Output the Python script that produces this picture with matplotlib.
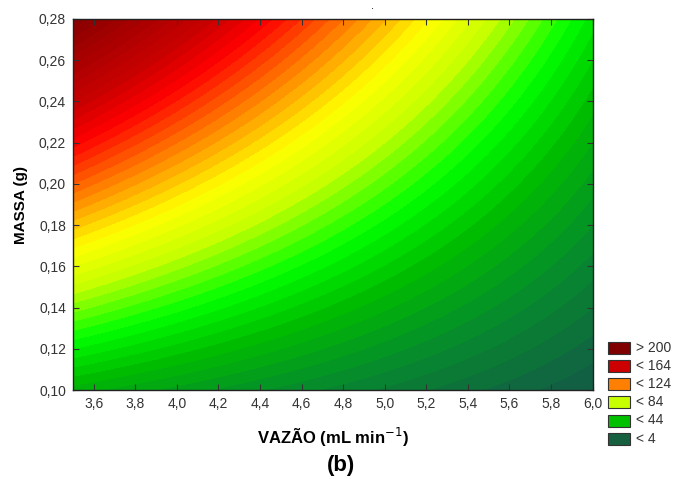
import numpy as np
import matplotlib
matplotlib.use("Agg")
import matplotlib.pyplot as plt
from matplotlib.colors import LinearSegmentedColormap, Normalize
from matplotlib.patches import Rectangle

plt.rcParams['font.family'] = ['Liberation Sans', 'DejaVu Sans']

# axis ranges / ticks
x_ticks = [3.6, 3.8, 4.0, 4.2, 4.4, 4.6, 4.8, 5.0, 5.2, 5.4, 5.6, 5.8, 6.0]
y_ticks = [0.10, 0.12, 0.14, 0.16, 0.18, 0.20, 0.22, 0.24, 0.26, 0.28]
x_range = [3.5, 6.0]
y_range = [0.10, 0.28]

# fitted response-surface coefficients (reference point x=3.5, y=0.10)
b0 = 38.0      # intercept
b_x = -15.2    # flow (VAZAO)
b_y = 900.0    # mass (MASSA)
b_xy = -240.0  # interaction

# contour levels and colour anchors
level_min, level_max, level_step = 0, 208, 4
cmap_values = [0, 20, 42, 60, 82, 100, 122, 145, 162, 205]
cmap_colors = ['#135c45', '#06882e', '#00bc00', '#00ff00', '#c8ff00', '#ffff00',
               '#ff8000', '#ff0000', '#c80000', '#800000']

# legend
legend_labels = ['> 200', '< 164', '< 124', '< 84', '< 44', '< 4']
legend_colors = ['#800000', '#cc0000', '#ff8000', '#c8ff00', '#00c000', '#17603f']

fig = plt.figure(figsize=(6.74, 4.79), dpi=100)
ax = fig.add_axes([73/674, 1-390/479, (592.5-73)/674, (390-19)/479])

xs = np.linspace(x_range[0], x_range[1], 300)
ys = np.linspace(y_range[0], y_range[1], 300)
X, Y = np.meshgrid(xs, ys)
U = X - x_range[0]
V = Y - y_range[0]
Z = b0 + b_x*U + b_y*V + b_xy*U*V

vmin, vmax = cmap_values[0], cmap_values[-1]
cmap = LinearSegmentedColormap.from_list(
    'stat', [((v-vmin)/(vmax-vmin), c) for v, c in zip(cmap_values, cmap_colors)])
levels = np.arange(level_min, level_max+1, level_step)
ax.contourf(X, Y, Z, levels=levels, cmap=cmap, norm=Normalize(vmin, vmax), extend='both')

ax.set_xlim(*x_range)
ax.set_ylim(*y_range)
ax.set_xticks(x_ticks)
ax.set_yticks(y_ticks)
ax.set_xticklabels([f"{t:.1f}".replace('.', ',') for t in x_ticks])
ax.set_yticklabels([f"{t:.2f}".replace('.', ',') for t in y_ticks])
ax.tick_params(direction='in', length=4, width=0.8, top=True, right=True,
               labelsize=10, labelcolor='#333333', color='#333333', pad=5)
for s in ax.spines.values():
    s.set_linewidth(1.0)
    s.set_color('#222222')

ax.set_xlabel('VAZÃO (mL min$^{-1}$)', fontsize=12, fontweight='bold', labelpad=11)
ax.set_ylabel('MASSA (g)', fontsize=11, fontweight='bold', labelpad=8)

fig.text(341/674, 1-466/479, '(b)', fontsize=16, fontweight='bold', ha='center', va='center')
fig.text(372/674, 1-6/479, '.', fontsize=8, ha='center', va='center')

# legend boxes
row_y = [347.5, 365.5, 383.8, 402, 420.5, 438.8]
for lab, col, yc in zip(legend_labels, legend_colors, row_y):
    fig.add_artist(Rectangle((608/674, 1-(yc+6)/479), 22/674, 12/479,
                             transform=fig.transFigure, facecolor=col,
                             edgecolor='#333333', linewidth=0.8))
    fig.text(636/674, 1-yc/479, lab, fontsize=10, color='#333333', va='center', ha='left')

fig.savefig('out.png', dpi=100)
